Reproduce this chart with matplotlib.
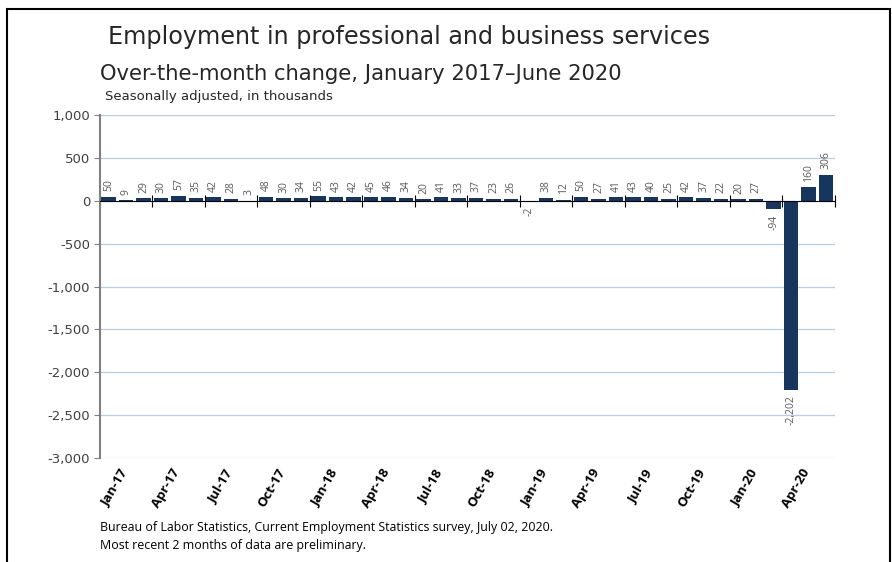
import matplotlib.pyplot as plt
import matplotlib.transforms as mtransforms
from matplotlib.patches import Rectangle

plt.rcParams['font.family'] = ['DejaVu Sans']

# over-the-month change, thousands, Jan 2017 - Jun 2020
months = ['Jan-17', 'Feb-17', 'Mar-17', 'Apr-17', 'May-17', 'Jun-17',
          'Jul-17', 'Aug-17', 'Sep-17', 'Oct-17', 'Nov-17', 'Dec-17',
          'Jan-18', 'Feb-18', 'Mar-18', 'Apr-18', 'May-18', 'Jun-18',
          'Jul-18', 'Aug-18', 'Sep-18', 'Oct-18', 'Nov-18', 'Dec-18',
          'Jan-19', 'Feb-19', 'Mar-19', 'Apr-19', 'May-19', 'Jun-19',
          'Jul-19', 'Aug-19', 'Sep-19', 'Oct-19', 'Nov-19', 'Dec-19',
          'Jan-20', 'Feb-20', 'Mar-20', 'Apr-20', 'May-20', 'Jun-20']
change = [50, 9, 29, 30, 57, 35, 42, 28, 3, 48, 30, 34,
          55, 43, 42, 45, 46, 34, 20, 41, 33, 37, 23, 26,
          -2, 38, 12, 50, 27, 41, 43, 40, 25, 42, 37, 22,
          20, 27, -94, -2202, 160, 306]
yticks = [1000, 500, 0, -500, -1000, -1500, -2000, -2500, -3000]

bar_color = '#17365d'
grid_color = '#b9cde6'
narrow = ['Open Sans', 'DejaVu Sans']

fig = plt.figure(figsize=(8.92, 5.62), dpi=100)
ax = fig.add_axes([0.112, 0.185, 0.824, 0.610])

x = list(range(len(change)))
ax.bar(x, change, width=0.82, color=bar_color, zorder=3)

for xi, v in zip(x, change):
    label = f'{v:,}'
    if v >= 0:
        ax.annotate(label, (xi, v), xytext=(0, 4), textcoords='offset points',
                    rotation=90, ha='center', va='bottom', fontsize=7.5,
                    color='#595959', family=narrow)
    else:
        ax.annotate(label, (xi, v), xytext=(0, -4), textcoords='offset points',
                    rotation=90, ha='center', va='top', fontsize=7.5,
                    color='#595959', family=narrow)

ax.set_ylim(-3000, 1000)
ax.set_xlim(-0.5, len(change) - 0.5)
ax.set_yticks(yticks)
ax.set_yticklabels([f'{t:,}' for t in yticks], fontsize=9.5, color='#404040')
ax.yaxis.grid(True, color=grid_color, linewidth=0.9)
ax.set_axisbelow(True)
ax.tick_params(axis='y', direction='out', length=4, color='#808080', pad=3)

for side in ['top', 'right']:
    ax.spines[side].set_visible(False)
ax.spines['left'].set_color('#808080')
ax.spines['left'].set_linewidth(1.5)
ax.spines['bottom'].set_position(('data', 0))
ax.spines['bottom'].set_color('black')
ax.spines['bottom'].set_linewidth(0.8)
ax.spines['bottom'].set_zorder(4)

ax.set_xticks([i - 0.5 for i in range(0, len(change) + 1, 3)])
ax.set_xticklabels([])
ax.tick_params(axis='x', direction='inout', length=8, color='black')

# quarter labels below the plot area
trans = mtransforms.blended_transform_factory(ax.transData, ax.transAxes)
for i in range(0, len(change), 3):
    ax.text(i + 0.6, -0.025, months[i], transform=trans, rotation=60,
            ha='right', va='top', rotation_mode='anchor',
            fontsize=9.5, fontweight='bold', color='black', family=narrow)

fig.text(0.121, 0.935, 'Employment in professional and business services',
         fontsize=17.2, color='#262626', va='center')
fig.text(0.112, 0.868, 'Over-the-month change, January 2017\u2013June 2020',
         fontsize=15.2, color='#262626', va='center')
fig.text(0.118, 0.828, 'Seasonally adjusted, in thousands',
         fontsize=9.5, color='#262626', va='center')
fig.text(0.112, 0.062,
         'Bureau of Labor Statistics, Current Employment Statistics survey, July 02, 2020.',
         fontsize=8.9, color='black', va='center', family=narrow)
fig.text(0.112, 0.030, 'Most recent 2 months of data are preliminary.',
         fontsize=8.9, color='black', va='center', family=narrow)

fig.add_artist(Rectangle((0.008, -0.01), 0.990, 0.994, transform=fig.transFigure,
                         fill=False, edgecolor='black', linewidth=1.5))

fig.savefig('out.png', dpi=100)
